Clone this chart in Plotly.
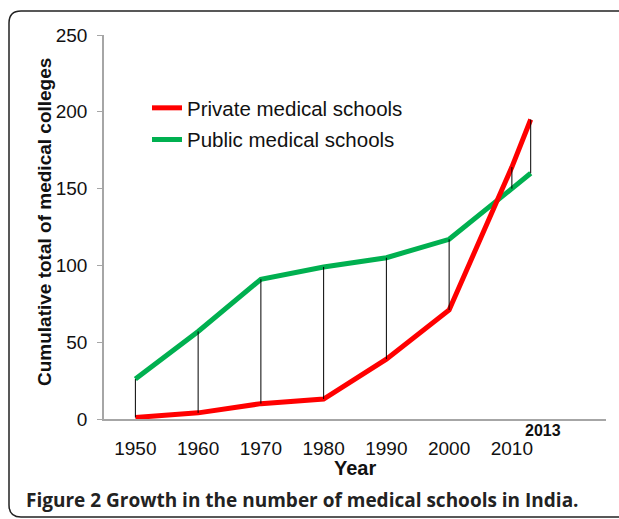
import plotly.graph_objects as go

years = [1950, 1960, 1970, 1980, 1990, 2000, 2010, 2013]
private = [1, 4, 10, 13, 39, 71, 164, 195]
public = [26, 57, 91, 99, 105, 117, 150, 160]
x_ticks = [1950, 1960, 1970, 1980, 1990, 2000, 2010]
y_ticks = [0, 50, 100, 150, 200, 250]

W, H = 619, 519
L, R, T, B = 104, 13, 35, 100
pw, ph = W - L - R, H - T - B

def px(x):
    return (x - L) / pw

def py(y):
    return (H - B - y) / ph

FONT = "Liberation Sans, Arial, sans-serif"

fig = go.Figure()
fig.add_trace(go.Scatter(x=years, y=public, mode="lines", name="Public medical schools",
                         line=dict(color="#00B050", width=5), legendrank=2, legendgroup="b"))
fig.add_trace(go.Scatter(x=years, y=private, mode="lines", name="Private medical schools",
                         line=dict(color="#FF0000", width=5), legendrank=1, legendgroup="a"))
dx, dy = [], []
for yr, a, b in zip(years, public, private):
    dx += [yr, yr, None]
    dy += [a, b, None]
fig.add_trace(go.Scatter(x=dx, y=dy, mode="lines", line=dict(color="black", width=1),
                         showlegend=False, hoverinfo="skip"))

# frame
x0, x1, y0, y1, r = px(9), px(640), py(11), py(517), 12
rx, ry = r / pw, r / ph
path = (f"M {x0+rx},{y0} L {x1},{y0} L {x1},{y1} L {x0+rx},{y1} "
        f"Q {x0},{y1} {x0},{y1+ry} L {x0},{y0-ry} Q {x0},{y0} {x0+rx},{y0} Z")
fig.add_shape(type="path", path=path, xref="paper", yref="paper",
              line=dict(color="#222222", width=1.5), layer="below")

def note(x, y, text, font, **kw):
    args = dict(x=px(x), y=py(y), xref="paper", yref="paper", text=text, showarrow=False,
                xanchor="center", yanchor="middle", font=font)
    args.update(kw)
    fig.add_annotation(**args)

note(542.5, 430, "<b>2013</b>", dict(family=FONT, size=16, color="#111"))
note(355, 468, "<b>Year</b>", dict(family=FONT, size=20, color="#111"))
note(44, 222, "<b>Cumulative total of medical colleges</b>",
     dict(family=FONT, size=19, color="#111"), textangle=-90)
note(24, 500, "Figure 2 Growth in the number of medical schools in India.",
     dict(family="Open Sans, sans-serif", size=19, color="#222", weight=700),
     xanchor="left")

fig.update_layout(
    width=W, height=H, autosize=False,
    margin=dict(l=L, r=R, t=T, b=B, autoexpand=False),
    paper_bgcolor="white", plot_bgcolor="white",
    font=dict(family=FONT, color="#111"),
    showlegend=True,
    legend=dict(x=px(147), y=py(88), xanchor="left", yanchor="top",
                font=dict(family=FONT, size=20.5, color="#111"),
                bgcolor="rgba(0,0,0,0)", tracegroupgap=2, traceorder="grouped"),
    xaxis=dict(range=[1945, 2025], tickvals=x_ticks, showgrid=False, zeroline=False,
               showline=True, linecolor="#a6a6a6", linewidth=1.5, ticks="",
               automargin=False,
               tickfont=dict(family=FONT, size=19, color="#111"), ticklabelstandoff=11),
    yaxis=dict(range=[0, 250], tickvals=y_ticks, showgrid=False, zeroline=False,
               showline=True, linecolor="#a6a6a6", linewidth=1.5, ticks="outside",
               ticklen=5, tickcolor="#a6a6a6", ticklabelstandoff=6, automargin=False,
               tickfont=dict(family=FONT, size=19, color="#111")),
)

fig.write_html("out.html", config={"displayModeBar": False},
               post_script="document.body.style.margin='0';document.body.style.overflow='hidden';")
